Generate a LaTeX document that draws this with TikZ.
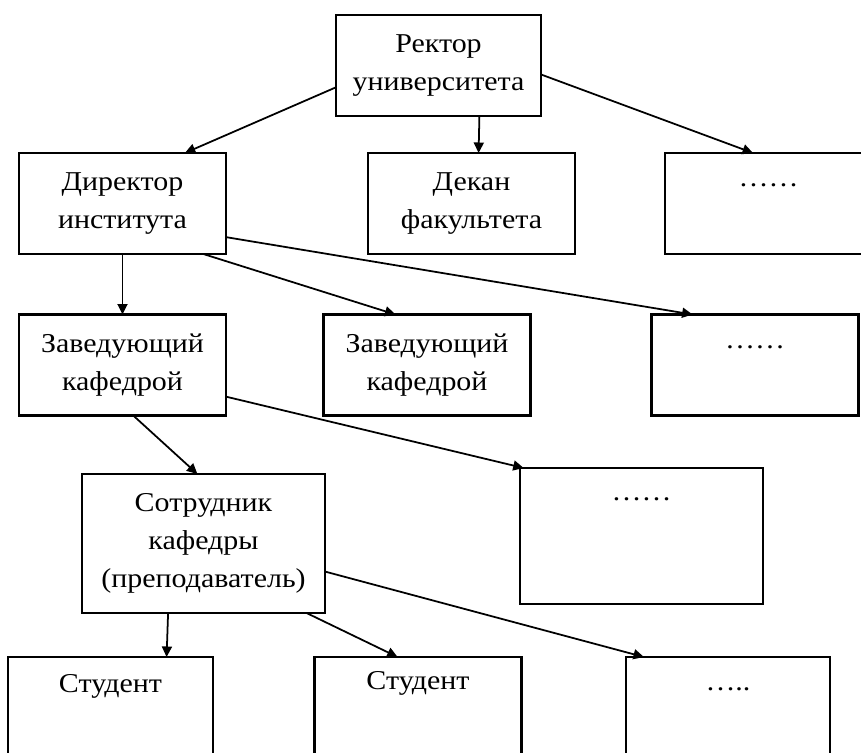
\documentclass[tikz,border=0pt]{standalone}
\usepackage{fontspec}
\setmainfont{Liberation Serif}[FakeStretch=1.1]
\usetikzlibrary{positioning,arrows.meta}

\begin{document}
\begin{tikzpicture}[node distance = 3 cm, on grid,
>={Triangle[length=2.1mm, width=2mm]},
box/.style = {draw, line width = 1.3pt, minimum width = 4.14 cm,
minimum height = 2.02 cm, inner sep = 0pt, outer sep = 0pt,
align = center, font = \fontsize{15.5}{21.5}\selectfont}]
\useasboundingbox (0,0) rectangle (17.22,-15.06);
\node [box, minimum width = 4.1 cm] (rector) at (8.77,-1.31) {Ректор\\университета};
\node [box] (dir) [below left = 2.76 cm and 6.32 cm of rector] {Директор\\института};
\node [box] (dekan) [right = 6.98 cm of dir] {Декан\\факультета};
\node [box, text height = 0.66 cm, text depth = 1.36 cm] (etc_1) [right = 5.94 cm of dekan] {……};
\node [box] (zav_1) [below = 3.23 cm of dir] {Заведующий\\кафедрой};
\node [box] (zav_2) [right = 6.09 cm of zav_1] {Заведующий\\кафедрой};
\node [box, text height = 0.68 cm, text depth = 1.34 cm] (etc_2) [right = 6.56 cm of zav_2] {……};
\node [box, minimum width = 4.86 cm, minimum height = 2.78 cm] (sotr) [below right = 3.57 cm and 1.62 cm of zav_1] {Сотрудник\\кафедры\\(преподаватель)};
\node [box, minimum width = 4.86 cm, text height = 0.64 cm, text depth = 2.08 cm] (etc_3) [above right = 0.15 cm and 8.76 cm of sotr] {……};
\node [box, minimum width = 4.1 cm, text height = 0.7 cm, text depth = 1.32 cm] (stud_1) [below left = 3.28 cm and 1.86 cm of sotr] {Студент};
\node [box, text height = 0.64 cm, text depth = 1.38 cm] (stud_2) [right = 6.15 cm of stud_1] {Студент};
\node [box, minimum width = 4.08 cm, text height = 0.66 cm, text depth = 1.36 cm] (etc_4) [right = 6.2 cm of stud_2] {…..};
\path [->, line width = 1pt]
(rector.192) edge (dir.39) (rector.309) edge (dekan.82) (rector.355) edge (etc_1.107)
(dir.south) edge (zav_1.north) (dir.328) edge (zav_2.122) (dir.342) edge (etc_2.141)
(zav_1.282) edge (sotr.95) (zav_1.343) edge (etc_3.150)
(sotr.243) edge (stud_1.42) (sotr.326) edge (stud_2.112) (sotr.347) edge (etc_4.149);
\end{tikzpicture}
\end{document}
